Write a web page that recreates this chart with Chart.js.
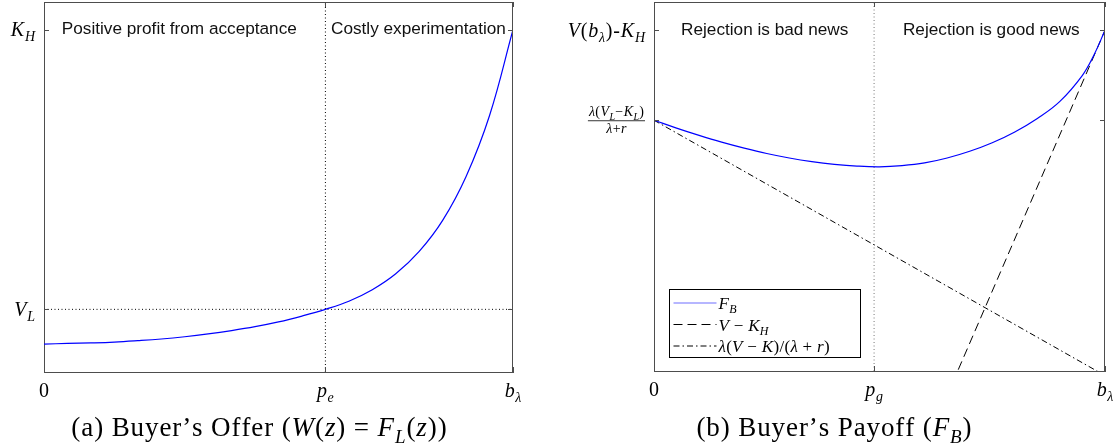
<!DOCTYPE html>
<html><head><meta charset="utf-8">
<script src="https://cdn.jsdelivr.net/npm/chart.js@4.4.1/dist/chart.umd.min.js"></script>
<style>
html,body{margin:0;padding:0;background:#fff;width:1119px;height:448px;overflow:hidden}
.wrap{position:absolute;top:0;height:448px}
#wa{left:0;width:560px}
#wb{left:560px;width:559px}
canvas{display:block}
</style></head><body>
<div class="wrap" id="wa"><canvas id="ca" width="560" height="448"></canvas></div>
<div class="wrap" id="wb"><canvas id="cb" width="559" height="448"></canvas></div>
<script>
// ---------------- data (panel a: buyer's offer) ----------------
const offerX = [0,0.05,0.1,0.15,0.2,0.25,0.3,0.35,0.4,0.45,0.5,0.55,0.6,0.65,0.7,0.75,0.8,0.85,0.9,0.95,1];
const offerY = [-0.124,-0.122,-0.120,-0.117,-0.112,-0.106,-0.098,-0.088,-0.076,-0.062,-0.045,-0.024,0.0,0.029,0.070,0.127,0.207,0.318,0.475,0.693,1.0];
const peValue = 0.6;
const VLValue = 0;
const xTicksA = [0, 0.6, 1];
const xTickLabelsA = ['0', '$p_e$', '$b_λ$'];
const yTicksA = [1, 0];
const yTickLabelsA = ['$K_H$', '$V_L$'];
const yRangeA = [-0.224, 1.099];
const regionLabelsA = ['Positive profit from acceptance', 'Costly experimentation'];
const captionA = '(a) Buyer’s Offer ($W(z) = F_L(z)$)';

// ---------------- data (panel b: buyer's payoff) ----------------
const payoffX = [0,0.05,0.1,0.15,0.2,0.25,0.3,0.35,0.4,0.45,0.5,0.55,0.6,0.65,0.7,0.75,0.8,0.85,0.9,0.95,0.975,1];
const payoffY = [0,-0.087,-0.168,-0.243,-0.31,-0.37,-0.42,-0.46,-0.49,-0.51,-0.518,-0.505,-0.475,-0.42,-0.345,-0.25,-0.13,0.02,0.21,0.5,0.72,1.0];
const valueLineX = [0.65, 1];
const valueLineY = [-3.06, 1];
const discLineX = [0, 1];
const discLineY = [0, -2.84];
const pgValue = 0.488;
const xTicksB = [0, 0.488, 1];
const xTickLabelsB = ['0', '$p_g$', '$b_λ$'];
const yTicksB = [1, 0];
const yTickLabelsB = ['$V(b_λ)$-$K_H$', '\\frac{$λ(V_L−K_L)$}{$λ+r$}'];
const yRangeB = [-2.789, 1.315];
const seriesLabelsB = ['$F_B$', '$V − K_H$', '$λ(V − K)/(λ + r)$'];
const regionLabelsB = ['Rejection is bad news', 'Rejection is good news'];
const captionB = '(b) Buyer’s Payoff ($F_B$)';

// ---------------- tiny math text renderer ----------------
const SERIF = '"Liberation Serif", "Times New Roman", serif';
function isLetter(c){ return /[A-Za-zα-ωΑ-Ω]/.test(c); }
function parseMath(str){
  const runs = []; let math = false;
  for (let i = 0; i < str.length; i++){
    const c = str[i];
    if (c === '$'){ math = !math; continue; }
    if (math && c === '_'){
      let sub;
      if (str[i+1] === '{'){ const j = str.indexOf('}', i); sub = str.slice(i+2, j); i = j; }
      else { sub = str[i+1]; i++; }
      for (const s of sub) runs.push({t:s, it:isLetter(s), sub:true});
      continue;
    }
    if (math) runs.push({t:c, it:isLetter(c), sub:false});
    else runs.push({t:c, it:false, sub:false});
  }
  return runs;
}
function fontFor(r, size, fam){ return (r.it ? 'italic ' : '') + (r.sub ? Math.round(size*0.7) : size) + 'px ' + fam; }
function mathWidth(ctx, str, size, fam, sp){
  sp = sp || 0; let w = 0;
  for (const r of parseMath(str)){ ctx.font = fontFor(r, size, fam); w += ctx.measureText(r.t).width + sp; }
  return w - sp;
}
function drawMath(ctx, str, x, y, size, align, fam, sp){
  fam = fam || SERIF; sp = sp || 0;
  const runs = parseMath(str);
  const w = mathWidth(ctx, str, size, fam, sp);
  let cx = align === 'right' ? x - w : align === 'center' ? x - w/2 : x;
  ctx.textBaseline = 'alphabetic'; ctx.textAlign = 'left';
  for (const r of runs){
    ctx.font = fontFor(r, size, fam);
    ctx.fillText(r.t, cx, y + (r.sub ? size*0.25 : 0));
    cx += ctx.measureText(r.t).width + sp;
  }
  return w;
}
function drawLabel(ctx, str, x, y, size, align){
  const m = str.match(/^\\frac\{(.*)\}\{(.*)\}$/);
  if (m){
    const fs = 14;
    const wn = mathWidth(ctx, m[1], fs, SERIF, 0.4), wd = mathWidth(ctx, m[2], fs, SERIF, 0.4);
    const w = Math.max(wn, wd) + 2;
    const cx = align === 'right' ? x - w/2 : x;
    drawMath(ctx, m[1], cx, y - 4, fs, 'center', SERIF, 0.4);
    drawMath(ctx, m[2], cx, y + 13, fs, 'center', SERIF, 0.4);
    ctx.strokeStyle = '#000'; ctx.lineWidth = 0.8;
    ctx.beginPath(); ctx.moveTo(cx - w/2, y + 0.5); ctx.lineTo(cx + w/2, y + 0.5); ctx.stroke();
    return;
  }
  drawMath(ctx, str, x, y + size*0.33, size, align, SERIF, 0.8);
}

// ---------------- decoration plugin ----------------
function decor(cfg){
  return {
    id: 'decor',
    afterDraw(chart){
      const ctx = chart.ctx, a = chart.chartArea, xs = chart.scales.x, ys = chart.scales.y;
      ctx.save();
      // frame (top and right edges; left/bottom are the axes' borders)
      ctx.strokeStyle = '#4d4d4d'; ctx.lineWidth = 1;
      ctx.beginPath();
      ctx.moveTo(a.left, a.top + 0.5); ctx.lineTo(a.right, a.top + 0.5);
      ctx.moveTo(a.right - 0.5, a.top); ctx.lineTo(a.right - 0.5, a.bottom);
      ctx.stroke();
      // inward tick marks
      ctx.beginPath();
      cfg.xTicks.forEach(v => { const p = Math.round(xs.getPixelForValue(v)) + 0.5;
        ctx.moveTo(p, a.bottom); ctx.lineTo(p, a.bottom - 5); ctx.moveTo(p, a.top); ctx.lineTo(p, a.top + 5); });
      cfg.yTicks.forEach(v => { const p = Math.round(ys.getPixelForValue(v)) + 0.5;
        ctx.moveTo(a.left, p); ctx.lineTo(a.left + 5, p); ctx.moveTo(a.right, p); ctx.lineTo(a.right - 5, p); });
      ctx.stroke();
      // tick labels
      ctx.fillStyle = '#000';
      cfg.xTicks.forEach((v, i) => drawMath(ctx, cfg.xLabels[i], xs.getPixelForValue(v), a.bottom + 25, 20, 'center', SERIF, 0.6));
      cfg.yTicks.forEach((v, i) => drawLabel(ctx, cfg.yLabels[i], a.left - 9, ys.getPixelForValue(v), 20, 'right'));
      // region labels
      ctx.fillStyle = '#111'; ctx.font = '17.2px "Liberation Sans", Arial, sans-serif';
      ctx.textBaseline = 'middle'; ctx.textAlign = 'left';
      cfg.regions.forEach((t, i) => ctx.fillText(t, xs.getPixelForValue(cfg.regionX[i]), ys.getPixelForValue(cfg.regionY)));
      // legend
      if (cfg.legend){
        const L = cfg.legend;
        const bx = a.left + 15.5, by = 289.5, bw = 191, bh = 68;
        ctx.fillStyle = '#fff'; ctx.fillRect(bx, by, bw, bh);
        ctx.strokeStyle = '#000'; ctx.lineWidth = 1; ctx.setLineDash([]);
        ctx.strokeRect(bx, by, bw, bh);
        const rows = [13.5, 35, 56.5];
        L.datasets.forEach((ds, i) => {
          const yy = by + rows[i];
          ctx.strokeStyle = i === 0 ? '#6f6fff' : ds.borderColor; ctx.lineWidth = ds.borderWidth;
          ctx.setLineDash(ds.borderDash || []);
          ctx.beginPath(); ctx.moveTo(bx + 4, yy); ctx.lineTo(bx + 47, yy); ctx.stroke();
          ctx.setLineDash([]);
          ctx.fillStyle = '#000';
          drawMath(ctx, L.labels[i], bx + 49, yy + 6, 17, 'left', SERIF, 0.3);
        });
      }
      // caption
      ctx.fillStyle = '#000';
      drawMath(ctx, cfg.caption, cfg.captionX, 436, 27, 'center', SERIF, 0.9);
      ctx.restore();
    }
  };
}

function pts(xArr, yArr){ return xArr.map((x, i) => ({x, y: yArr[i]})); }
function scalesFor(yr){
  const common = () => ({type:'linear', grid:{display:false, drawTicks:false, tickLength:0}, ticks:{display:false}, border:{display:true, color:'#4d4d4d', width:1}});
  return { x: Object.assign({min:0, max:1}, common()), y: Object.assign({min:yr[0], max:yr[1]}, common()) };
}

// ---------------- panel a ----------------
new Chart(document.getElementById('ca'), {
  type: 'line',
  data: { datasets: [
    { label: 'W', data: pts(offerX, offerY), borderColor: '#0000ff', borderWidth: 1.2, pointRadius: 0, tension: 0.4, order: 0 },
    { label: 'pe', data: [{x: peValue, y: yRangeA[0]}, {x: peValue, y: yRangeA[1]}], borderColor: '#000', borderWidth: 1, borderDash: [1, 2.5], pointRadius: 0, order: 1 },
    { label: 'VL', data: [{x: 0, y: VLValue}, {x: 1, y: VLValue}], borderColor: '#000', borderWidth: 1, borderDash: [1, 2.5], pointRadius: 0, order: 1 }
  ]},
  options: {
    responsive: false, animation: false, events: [],
    layout: { padding: { left: 44, top: 2, right: 47, bottom: 76 } },
    plugins: { legend: { display: false }, tooltip: { enabled: false } },
    scales: scalesFor(yRangeA)
  },
  plugins: [decor({ xTicks: xTicksA, xLabels: xTickLabelsA, yTicks: yTicksA, yLabels: yTickLabelsA,
    regions: regionLabelsA, regionX: [0.038, 0.612], regionY: 1,
    caption: captionA, captionX: 259 })]
});

// ---------------- panel b ----------------
const dsB = [
  { label: seriesLabelsB[0], data: pts(payoffX, payoffY), borderColor: '#0000ff', borderWidth: 1.2, pointRadius: 0, tension: 0.4, order: 0 },
  { label: seriesLabelsB[1], data: pts(valueLineX, valueLineY), borderColor: '#000', borderWidth: 1, borderDash: [9, 5], pointRadius: 0, order: 0 },
  { label: seriesLabelsB[2], data: pts(discLineX, discLineY), borderColor: '#000', borderWidth: 1, borderDash: [6, 3, 1.5, 3], pointRadius: 0, order: 0 },
  { label: 'pg', data: [{x: pgValue, y: yRangeB[0]}, {x: pgValue, y: yRangeB[1]}], borderColor: '#777', borderWidth: 1, borderDash: [1, 2.5], pointRadius: 0, order: 1 }
];
new Chart(document.getElementById('cb'), {
  type: 'line',
  data: { datasets: dsB },
  options: {
    responsive: false, animation: false, events: [],
    layout: { padding: { left: 94, top: 2, right: 14, bottom: 77 } },
    plugins: { legend: { display: false }, tooltip: { enabled: false } },
    scales: scalesFor(yRangeB)
  },
  plugins: [decor({ xTicks: xTicksB, xLabels: xTickLabelsB, yTicks: yTicksB, yLabels: yTickLabelsB,
    regions: regionLabelsB, regionX: [0.06, 0.552], regionY: 1,
    legend: { datasets: dsB.slice(0, 3), labels: seriesLabelsB },
    caption: captionB, captionX: 274 })]
});
</script>
</body></html>
